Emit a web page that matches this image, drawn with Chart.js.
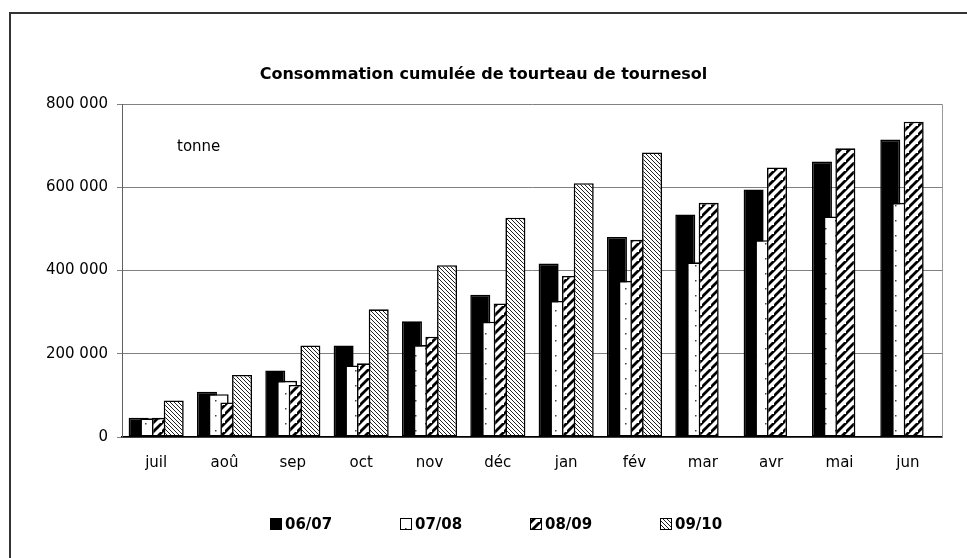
<!DOCTYPE html>
<html lang="fr">
<head>
<meta charset="utf-8">
<title>Consommation cumulée de tourteau de tournesol</title>
<script src="https://cdn.jsdelivr.net/npm/chart.js@4.4.1/dist/chart.umd.min.js"></script>
<style>
  html, body { margin: 0; padding: 0; background: #fff; }
  canvas { display: block; }
</style>
</head>
<body>
<canvas id="tourteauChart" width="967" height="558"></canvas>
<script>
// Cumul mensuel par campagne (tonnes)
const mois = ['juil', 'aoû', 'sep', 'oct', 'nov', 'déc', 'jan', 'fév', 'mar', 'avr', 'mai', 'jun'];
const campagnes = ['06/07', '07/08', '08/09', '09/10'];
const conso0607 = [46000, 109000, 160000, 220000, 278000, 342000, 417000, 481000, 535000, 595000, 662000, 715000];
const conso0708 = [45000, 103000, 135000, 172000, 221000, 277000, 327000, 375000, 420000, 473000, 530000, 563000];
const conso0809 = [46000, 83000, 125000, 177000, 241000, 321000, 387000, 474000, 563000, 648000, 694000, 758000];
const conso0910 = [88000, 149000, 220000, 307000, 413000, 527000, 610000, 684000, null, null, null, null];
const graduations = [0, 200000, 400000, 600000, 800000];

const POLICE = 'DejaVu Sans';

// petits motifs de remplissage façon Excel
function motif(w, h, dessin) {
    const c = document.createElement('canvas');
    c.width = w;
    c.height = h;
    const g = c.getContext('2d');
    g.fillStyle = '#fff';
    g.fillRect(0, 0, w, h);
    dessin(g, w, h);
    return document.createElement('canvas').getContext('2d').createPattern(c, 'repeat');
}

const pointille = motif(20, 15, (g) => {
    g.fillStyle = '#444';
    g.fillRect(5, 3, 1.5, 1.5);
    g.fillRect(15, 10, 1.5, 1.5);
});

const hachureLarge = motif(9, 9, (g, w, h) => {
    g.strokeStyle = '#000';
    g.lineWidth = 2.8;
    g.beginPath();
    g.moveTo(-2, h + 2); g.lineTo(w + 2, -2);
    g.moveTo(-2 - w, h + 2); g.lineTo(2, -2);
    g.moveTo(w - 2, 2 * h + 2); g.lineTo(2 * w + 2, h - 2);
    g.stroke();
});

const hachureFine = motif(4, 4, (g, w, h) => {
    g.strokeStyle = '#222';
    g.lineWidth = 1;
    g.beginPath();
    g.moveTo(-1, -1); g.lineTo(w + 1, h + 1);
    g.moveTo(-1 - w, -1); g.lineTo(1, h + 1);
    g.moveTo(w - 1, -1); g.lineTo(2 * w + 1, h + 1);
    g.stroke();
});

const remplissages = ['#000', pointille, hachureLarge, hachureFine];
const series = [conso0607, conso0708, conso0809, conso0910];

function formatTonnes(v) {
    return String(v).replace(/\B(?=(\d{3})+(?!\d))/g, ' ');
}

// cadre extérieur + bord droit de la zone de tracé
const cadre = {
    id: 'cadre',
    beforeDraw(chart) {
        const ctx = chart.ctx;
        ctx.save();
        ctx.fillStyle = '#fff';
        ctx.fillRect(0, 0, chart.width, chart.height);
        ctx.strokeStyle = '#333';
        ctx.lineWidth = 2;
        ctx.strokeRect(10, 13, chart.width + 20, chart.height + 20);
        ctx.restore();
    },
    beforeDatasetsDraw(chart) {
        const a = chart.chartArea;
        const ctx = chart.ctx;
        ctx.save();
        ctx.strokeStyle = '#9a9a9a';
        ctx.lineWidth = 1;
        ctx.beginPath();
        ctx.moveTo(Math.round(a.right) + 0.5, a.top);
        ctx.lineTo(Math.round(a.right) + 0.5, a.bottom);
        ctx.stroke();
        ctx.restore();
    }
};

// les barres se chevauchent : la dernière campagne passe devant
const ordreTrace = {
    id: 'ordreTrace',
    beforeDatasetsDraw(chart) {
        chart.data.datasets.forEach((ds, i) => {
            const meta = chart.getDatasetMeta(i);
            if (!meta.hidden) meta.controller.draw();
        });
        return false;
    }
};

// unité + légende en bas
const annotations = {
    id: 'annotations',
    afterDraw(chart) {
        const ctx = chart.ctx;
        const a = chart.chartArea;
        ctx.save();
        ctx.fillStyle = '#000';
        ctx.font = '15px "' + POLICE + '"';
        ctx.textBaseline = 'middle';
        ctx.fillText('tonne', a.left + 55, a.top + 43);

        ctx.font = 'bold 15px "' + POLICE + '"';
        const y = 524;
        chart.data.datasets.forEach((ds, i) => {
            const x = 270 + i * 130;
            ctx.fillStyle = ds.backgroundColor;
            ctx.fillRect(x, y - 6, 12, 12);
            ctx.strokeStyle = '#000';
            ctx.lineWidth = 1;
            ctx.strokeRect(x + 0.5, y - 5.5, 11, 11);
            ctx.fillStyle = '#000';
            ctx.fillText(ds.label, x + 15, y + 1);
        });
        ctx.restore();
    }
};

new Chart(document.getElementById('tourteauChart'), {
    type: 'bar',
    data: {
        labels: mois,
        datasets: campagnes.map((c, i) => ({
            label: c,
            data: series[i],
            backgroundColor: remplissages[i],
            borderColor: '#000',
            borderWidth: 1.6,
            borderSkipped: false,
            categoryPercentage: 0.685,
            barPercentage: 1.71
        }))
    },
    options: {
        responsive: false,
        animation: false,
        events: [],
        layout: { padding: { left: 25, right: 25, top: 0, bottom: 76 } },
        plugins: {
            legend: { display: false },
            tooltip: { enabled: false },
            title: {
                display: true,
                text: 'Consommation cumulée de tourteau de tournesol',
                color: '#000',
                font: { family: POLICE, size: 16, weight: 'bold', lineHeight: 1.2 },
                padding: { top: 65, bottom: 20 }
            }
        },
        scales: {
            x: {
                grid: { display: false, drawTicks: false },
                border: { display: true, color: '#000', width: 1.5 },
                ticks: { color: '#000', padding: 17, font: { family: POLICE, size: 15 } },
                afterFit(scale) { scale.height = 45; }
            },
            y: {
                min: graduations[0],
                max: graduations[graduations.length - 1],
                afterBuildTicks(scale) {
                    scale.ticks = graduations.map(v => ({ value: v }));
                },
                afterFit(scale) { scale.width = 97; },
                grid: { color: '#808080', lineWidth: 1, tickLength: 5, drawTicks: true },
                border: { display: true, color: '#606060', width: 1 },
                ticks: {
                    color: '#000',
                    padding: 9,
                    font: { family: POLICE, size: 15 },
                    callback: (v) => formatTonnes(v)
                }
            }
        }
    },
    plugins: [cadre, ordreTrace, annotations]
});
</script>
</body>
</html>
